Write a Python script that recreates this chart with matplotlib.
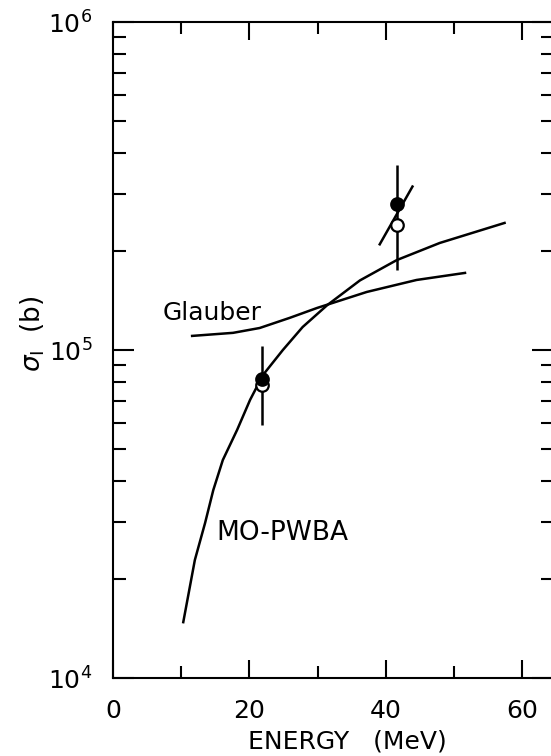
import numpy as np
import matplotlib
matplotlib.use("Agg")
import matplotlib.pyplot as plt
from matplotlib.ticker import FixedLocator, LogLocator, NullFormatter

# MO-PWBA curve (energy in MeV, cross section in barns)
mo_E = [10.3, 12.0, 13.5, 14.7, 16.1, 18.2, 20.1, 22.0, 24.9, 27.8, 31.4, 36.2, 41.6, 47.9, 57.4]
mo_sig = [1.48e4, 2.29e4, 2.97e4, 3.74e4, 4.62e4, 5.71e4, 7.05e4, 8.40e4, 1.00e5, 1.175e5,
          1.37e5, 1.63e5, 1.88e5, 2.12e5, 2.44e5]

# Glauber curve
gl_E = [11.6, 17.6, 21.5, 25.9, 29.9, 37.2, 44.5, 51.6]
gl_sig = [1.104e5, 1.128e5, 1.167e5, 1.253e5, 1.343e5, 1.503e5, 1.635e5, 1.718e5]

# measured points
pt_E = [21.8, 41.6]
filled_sig = [8.15e4, 2.79e5]
open_sig = [7.82e4, 2.40e5]
bar_lo = [5.9e4, 1.75e5]
bar_hi = [1.03e5, 3.66e5]

# slanted line through the 42 MeV point
slant_E = [39.1, 43.9]
slant_sig = [2.10e5, 3.15e5]

xticks = [0, 20, 40, 60]
xlabels = ["0", "20", "40", "60"]
yticks = [1e4, 1e5, 1e6]
ylabels = ["$10^{4}$", "$10^{5}$", "$10^{6}$"]

fig = plt.figure(figsize=(5.51, 7.56), dpi=100)
ax = fig.add_axes([113 / 551, 78 / 756, 440 / 551, 656 / 756])

lw = 1.8
ax.plot(mo_E, mo_sig, color="black", lw=lw, solid_joinstyle="round")
ax.plot(gl_E, gl_sig, color="black", lw=lw, solid_joinstyle="round")
ax.plot(slant_E, slant_sig, color="black", lw=lw)
ax.vlines(pt_E, bar_lo, bar_hi, color="black", lw=lw)
ax.plot(pt_E, open_sig, "o", ms=9, mfc="white", mec="black", mew=1.6)
ax.plot(pt_E, filled_sig, "o", ms=9, mfc="black", mec="black", mew=1.6)

ax.text(7.3, 1.30e5, "Glauber", fontsize=18, ha="left", va="center")
ax.text(15.2, 2.77e4, "MO-PWBA", fontsize=19, ha="left", va="center")

ax.set_yscale("log")
ax.set_xlim(0, 64.5)
ax.set_ylim(1e4, 1e6)

ax.xaxis.set_major_locator(FixedLocator(xticks))
ax.set_xticklabels(xlabels)
ax.xaxis.set_minor_locator(FixedLocator([10, 30, 50]))
ax.yaxis.set_major_locator(FixedLocator(yticks))
ax.set_yticklabels(ylabels)
ax.yaxis.set_minor_locator(LogLocator(base=10, subs=np.arange(2, 10)))
ax.yaxis.set_minor_formatter(NullFormatter())

ax.tick_params(which="both", direction="in", top=True, right=True, width=1.5, labelsize=18)
ax.tick_params(axis="x", which="major", length=13, pad=15)
ax.tick_params(axis="x", which="minor", length=8.5)
ax.tick_params(axis="y", which="major", length=15, pad=15)
ax.tick_params(axis="y", which="minor", length=9)
for s in ax.spines.values():
    s.set_linewidth(1.5)

fig.text(347 / 551, 1 - 742 / 756, "ENERGY   (MeV)", fontsize=18, ha="center", va="center")
fig.text(33 / 551, 1 - 334 / 756, r"$\sigma_{\mathrm{I}}$  (b)", fontsize=19,
         ha="center", va="center", rotation=90)

fig.savefig("out.png", dpi=100)
